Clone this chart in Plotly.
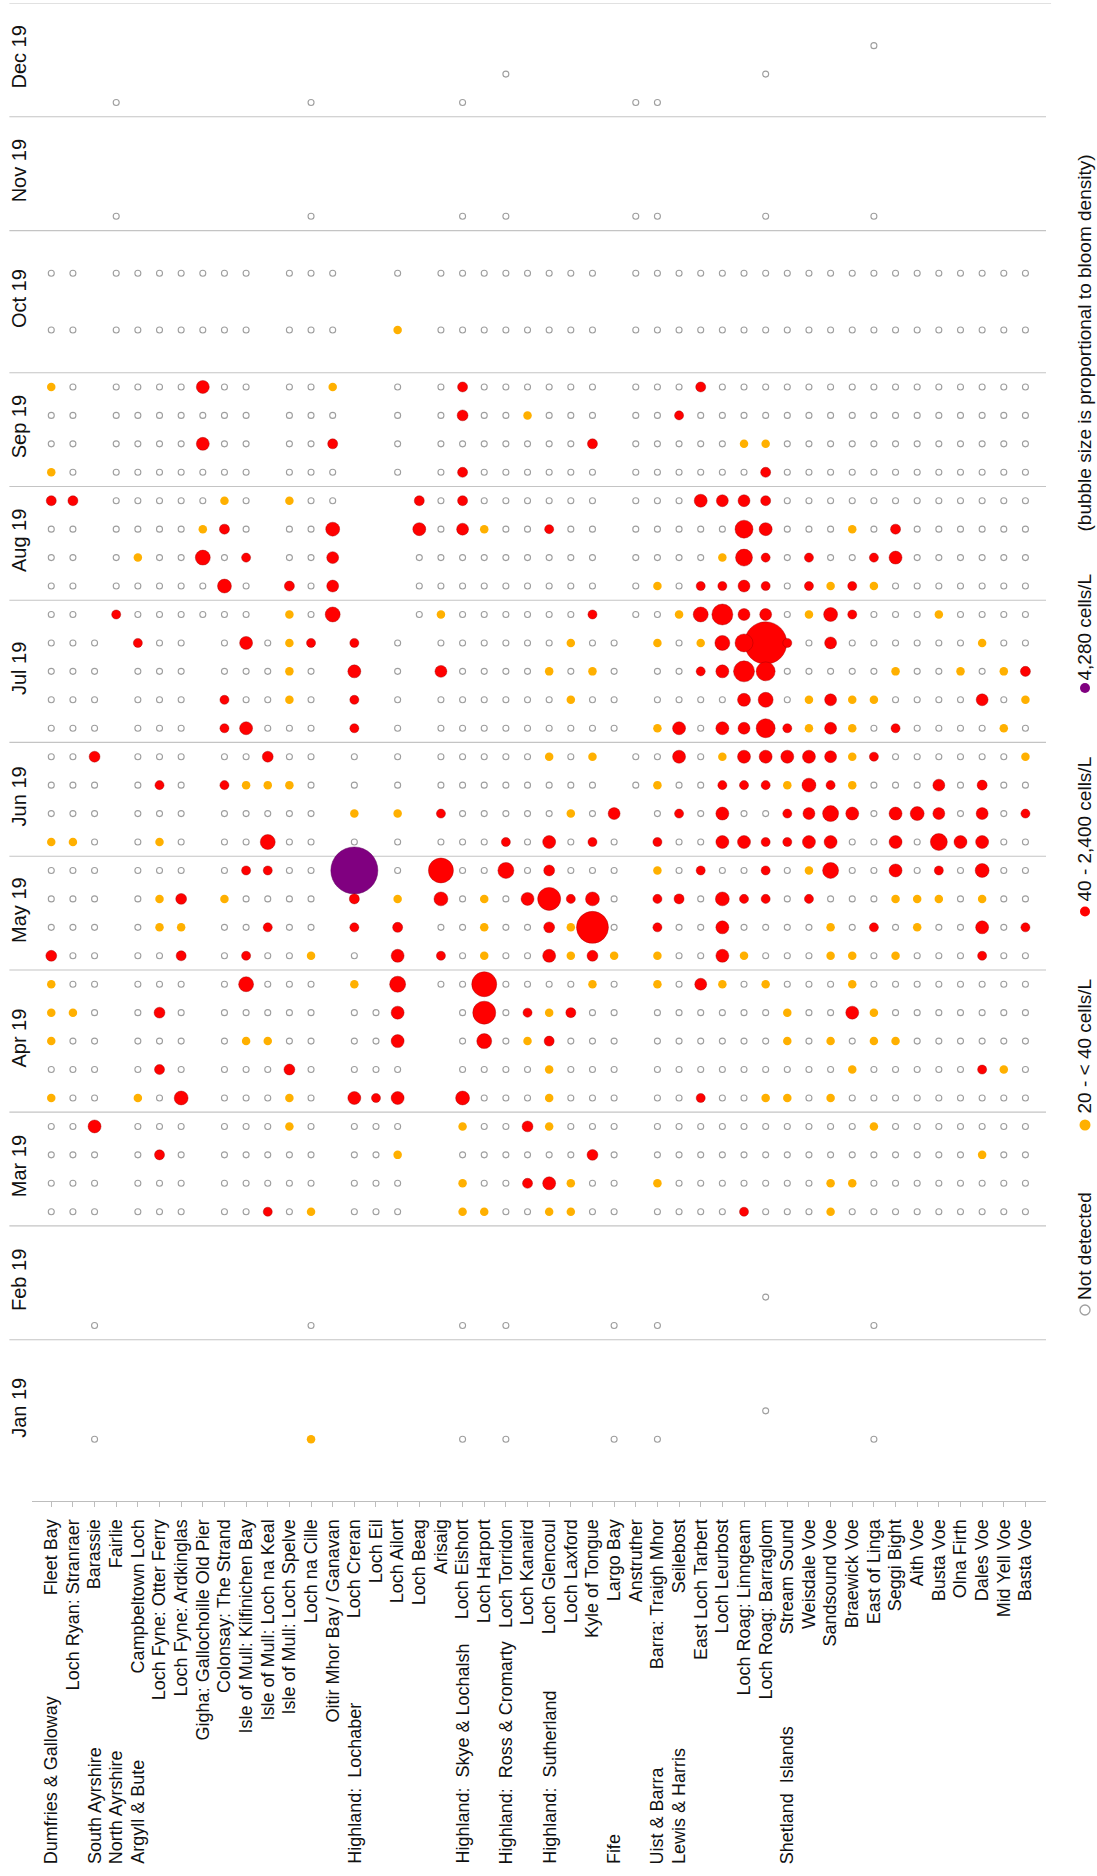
import math
import plotly.graph_objects as go

# ---------------- data ----------------
SITES = ["Fleet Bay", "Loch Ryan: Stranraer", "Barassie", "Fairlie", "Campbeltown Loch",
         "Loch Fyne: Otter Ferry", "Loch Fyne: Ardkinglas", "Gigha: Gallochoille Old Pier",
         "Colonsay: The Strand", "Isle of Mull: Kilfinichen Bay", "Isle of Mull: Loch na Keal",
         "Isle of Mull: Loch Spelve", "Loch na Cille", "Oitir Mhor Bay / Ganavan", "Loch Creran",
         "Loch Eil", "Loch Ailort", "Loch Beag", "Arisaig", "Loch Eishort", "Loch Harport",
         "Loch Torridon", "Loch Kanaird", "Loch Glencoul", "Loch Laxford", "Kyle of Tongue",
         "Largo Bay", "Anstruther", "Barra: Traigh Mhor", "Seilebost", "East Loch Tarbert",
         "Loch Leurbost", "Loch Roag: Linngeam", "Loch Roag: Barraglom", "Stream Sound",
         "Weisdale Voe", "Sandsound Voe", "Braewick Voe", "East of Linga", "Seggi Bight",
         "Aith Voe", "Busta Voe", "Olna Firth", "Dales Voe", "Mid Yell Voe", "Basta Voe"]

REGIONS = ["Dumfries & Galloway", "South Ayrshire", "North Ayrshire", "Argyll & Bute",
           "Highland:\u00a0 Lochaber", "Highland:\u00a0 Skye & Lochalsh",
           "Highland:\u00a0 Ross & Cromarty", "Highland:\u00a0 Sutherland", "Fife",
           "Uist & Barra", "Lewis & Harris", "Shetland\u00a0 Islands"]
REGION_SIZES = [2, 1, 1, 10, 5, 2, 2, 3, 2, 1, 5, 12]

MONTHS = ["Jan 19", "Feb 19", "Mar 19", "Apr 19", "May 19", "Jun 19",
          "Jul 19", "Aug 19", "Sep 19", "Oct 19", "Nov 19", "Dec 19"]
WEEKS_PER_MONTH = [5, 4, 4, 5, 4, 4, 5, 4, 4, 5, 4, 4]

# sample code -> Dinophysis density (cells/L); '.' = no sample
DENSITY = {'o': 0, 'y': 30,
           'a': 40, 'b': 45, 'c': 50, 'd': 57, 'e': 65, 'f': 73, 'g': 83, 'h': 94,
           'i': 106, 'j': 120, 'k': 136, 'l': 174, 'm': 223, 'n': 285, 'q': 675,
           'r': 2400, 'P': 4280}

# week index (0 = first week of Jan) -> one code per site, grouped by region with '|'
SAMPLES = {
    1:  "..|o|.|........y.|.....|o.|o.|...|o.|o|.....|....o.......",
    2:  "..|.|.|..........|.....|..|..|...|..|.|....o|............",
    5:  "..|o|.|........o.|.....|o.|o.|...|o.|o|.....|....o.......",
    6:  "..|.|.|..........|.....|..|..|...|..|.|....o|............",
    9:  "oo|o|.|ooo.ooaoy.|ooo..|yy|oo|yyo|o.|o|oooao|ooyooooooooo",
    10: "oo|o|.|ooo.ooooo.|ooo..|yo|ob|eyo|o.|y|ooooo|ooyyoooooooo",
    11: "oo|o|.|obo.ooooo.|ooy..|oo|oo|ooc|o.|o|ooooo|oooooooooyoo",
    12: "oo|e|.|ooo.oooyo.|ooo..|yo|oc|yoo|o.|o|ooooo|ooooyooooooo",
    13: "yo|o|.|yof.oooyo.|eae..|fo|oo|yoo|o.|o|oaooy|yoyooooooooo",
    14: "oo|o|.|obo.oooco.|ooo..|oo|oo|yoo|o.|o|ooooo|oooyoooooayo",
    15: "yo|o|.|ooo.oyyoo.|ooe..|og|oy|boo|o.|o|ooooo|yoyoyyoooooo",
    16: "yy|o|.|oco.ooooo.|ooe..|om|oa|ybo|o.|o|ooooo|yooeyooooooo",
    17: "yo|o|.|ooo.ogooo.|y.h.o|on|oo|ooy|o.|y|odyoy|oooyoooooooo",
    18: "co|o|.|oob.oaooy.|o.e.a|oy|oo|eyc|y.|y|ooeyo|ooyyoyoooaoo",
    19: "oo|o|.|oyy.ooaoo.|a.b.o|oy|oo|cyq|o.|a|ooeoo|ooyoaoyooeoa",
    20: "oo|o|.|oyc.yoooo.|b.y.f|oy|oe|maf|o.|a|bofaa|oaoooyyyoyoo",
    21: "oo|o|.|ooo.oaaoo.|P.o.n|oo|ho|coo|o.|y|oaooa|oyhooeoaofoo",
    22: "yy|o|.|oyo.oogoo.|o.o.o|oo|ao|eoa|o.|a|ooeea|aeeooeoieeoo",
    23: "oo|o|.|ooo.ooooo.|y.y.a|oo|oo|oyo|d.|o|aoeoo|adheoefdodoa",
    24: "oo|o|.|oao.ayyyo.|o.o.o|oo|oo|ooo|.o|y|ooaaa|yfayooodoboo",
    25: "oo|c|.|ooo.oocoo.|o.o.o|oo|oo|yoy|.o|o|eoyee|eedyaooooooy",
    26: "oo|o|.|ooo.aeooo.|a.o.o|oo|oo|ooo|o.|y|eoedk|aydyoaooooyo",
    27: "oo|o|.|ooo.aooyo.|a.o.o|oo|oo|oyo|o.|o|oooeg|oydyyoooodoy",
    28: "oo|o|.|ooo.oooyo.|e.o.d|oo|oo|yoy|o.|o|oaelk|oooooyooyoyb",
    29: "oo|o|.|aoo.oeoya.|a.o.o|oo|oo|oyo|o.|y|oygjr|aodooooooyoo",
    30: "oo|.|a|oooooo.yog|...oy|oo|oo|ooa|.o|o|ygldd|oyfaoooyoooo",
    31: "oo|.|o|oooofo.bod|...oo|oo|oo|ooo|.o|y|oaada|oayayooooooo",
    32: "oo|.|o|yoogoa.ood|...oo|oo|oo|ooo|.o|o|ooyia|oaooaeoooooo",
    33: "oo|.|o|oooybo.oof|...eo|dy|oo|aoo|.o|o|oooje|oooyoboooooo",
    34: "bb|.|o|ooooyo.yoo|...bo|bo|oo|ooo|.o|o|oeddb|oooooooooooo",
    35: "yo|.|o|oooooo.ooo|..o.o|bo|oo|ooo|.o|o|oooob|oooooooooooo",
    36: "oo|.|o|oooeoo.oob|..o.o|oo|oo|oob|.o|o|oooyy|oooooooooooo",
    37: "oo|.|o|oooooo.ooo|..o.o|co|oy|ooo|.o|o|aoooo|oooooooooooo",
    38: "yo|.|o|oooeoo.ooy|..o.o|bo|oo|ooo|.o|o|obooo|oooooooooooo",
    40: "oo|.|o|oooooo.ooo|..y.o|oo|oo|ooo|.o|o|ooooo|oooooooooooo",
    42: "oo|.|o|oooooo.ooo|..o.o|oo|oo|ooo|.o|o|ooooo|oooooooooooo",
    44: "..|.|o|........o.|.....|o.|o.|...|.o|o|....o|....o.......",
    48: "..|.|o|........o.|.....|o.|..|...|.o|o|.....|............",
    49: "..|.|.|..........|.....|..|o.|...|..|.|....o|............",
    50: "..|.|.|..........|.....|..|..|...|..|.|.....|....o.......",
}

# ---------------- geometry ----------------
W, H = 1097, 1876
ML, MR, MT, MB = 32, 51, 3, 375
PW, PH = W - ML - MR, H - MT - MB


def px(x):
    return (x - ML) / PW


def py(y):
    return (H - MB - y) / PH


def diameter(d):
    return 18.7 * math.log10(d) - 20.9


COL_ND = "#9e9e9e"
COL_OR = "#FFB000"
COL_RED = "#FF0000"
COL_PUR = "#800080"
FONT = "Arial, Liberation Sans, sans-serif"

nd_x, nd_y = [], []
or_x, or_y = [], []
red_pts = []
pur_pts = []
for wk, row in SAMPLES.items():
    codes = row.replace("|", "")
    assert len(codes) == len(SITES), (wk, len(codes))
    for i, c in enumerate(codes):
        if c == '.':
            continue
        dens = DENSITY[c]
        if dens == 0:
            nd_x.append(i); nd_y.append(wk)
        elif dens < 40:
            or_x.append(i); or_y.append(wk)
        elif dens <= 2400:
            red_pts.append((i, wk, dens))
        else:
            pur_pts.append((i, wk, dens))

red_pts.sort(key=lambda t: -t[2])

fig = go.Figure()
fig.add_trace(go.Scatter(
    x=nd_x, y=nd_y, mode="markers", hoverinfo="skip",
    marker=dict(symbol="circle-open", size=6, color=COL_ND, opacity=1, line=dict(width=1.1))))
fig.add_trace(go.Scatter(
    x=or_x, y=or_y, mode="markers", hoverinfo="skip",
    marker=dict(symbol="circle", size=8.5, color=COL_OR, opacity=1, line=dict(width=0))))
fig.add_trace(go.Scatter(
    x=[p[0] for p in pur_pts], y=[p[1] for p in pur_pts], mode="markers", hoverinfo="skip",
    marker=dict(symbol="circle", size=[diameter(p[2]) for p in pur_pts], color=COL_PUR,
                opacity=1, line=dict(width=0.8, color="rgba(90,0,90,0.6)"))))
fig.add_trace(go.Scatter(
    x=[p[0] for p in red_pts], y=[p[1] for p in red_pts], mode="markers", hoverinfo="skip",
    marker=dict(symbol="circle", size=[diameter(p[2]) for p in red_pts], color=COL_RED,
                opacity=1, line=dict(width=0.7, color="rgba(150,0,0,0.55)"))))

# month tick positions (centre of each month's weeks) and boundaries
month_centres, boundaries = [], []
start = 0
for n in WEEKS_PER_MONTH:
    month_centres.append(start + (n - 1) / 2)
    start += n
    boundaries.append(start - 0.5)

shapes = []
for b in boundaries:
    shapes.append(dict(type="line", xref="paper", yref="y", x0=px(9.4),
                       x1=1.005 if b == boundaries[-1] else 1.0, y0=b, y1=b,
                       line=dict(color="#c4c4c4", width=1.2), layer="below"))

# ---------------- manual legend (rotated) ----------------
LX = 1084
legend_items = [
    ("Not detected", 1310, 1302, dict(line=dict(color=COL_ND, width=1.3), fillcolor="white"), 5),
    ("20 - < 40 cells/L", 1125, 1116, dict(line=dict(width=0), fillcolor=COL_OR), 5.5),
    ("40 - 2,400 cells/L", 911.5, 904, dict(line=dict(width=0), fillcolor=COL_RED), 5),
    ("4,280 cells/L", 688, 683, dict(line=dict(width=0), fillcolor=COL_PUR), 5),
]
annotations = []
for text, cy, tb, style, r in legend_items:
    shapes.append(dict(type="circle", xref="paper", yref="paper", xsizemode="pixel",
                       ysizemode="pixel", xanchor=px(LX + 1), yanchor=py(cy),
                       x0=-r, x1=r, y0=-r, y1=r, **style))
    annotations.append(dict(text=text, x=px(LX), y=py(tb), xref="paper", yref="paper",
                            xanchor="center", yanchor="bottom", textangle=-90,
                            showarrow=False, font=dict(family=FONT, size=19, color="#111")))
annotations.append(dict(text="(bubble size is proportional to bloom density)",
                        x=px(LX), y=py(534), xref="paper", yref="paper",
                        xanchor="center", yanchor="bottom", textangle=-90, showarrow=False,
                        font=dict(family=FONT, size=19, color="#111")))

# region labels
s = 0
for name, n in zip(REGIONS, REGION_SIZES):
    annotations.append(dict(text=name, x=s, y=py(1866), xref="x", yref="paper",
                            xanchor="center", yanchor="bottom", textangle=-90,
                            showarrow=False, font=dict(family=FONT, size=18, color="#111")))
    s += n

fig.update_layout(
    width=W, height=H, margin=dict(l=ML, r=MR, t=MT, b=MB, pad=0),
    paper_bgcolor="white", plot_bgcolor="white", showlegend=False,
    font=dict(family=FONT, color="#111"),
    xaxis=dict(range=[-0.89, 45.95], tickmode="array", tickvals=list(range(len(SITES))),
               ticktext=SITES, tickangle=-90, ticks="outside", ticklen=5,
               tickcolor="#bdbdbd", showline=True, linecolor="#bdbdbd", linewidth=1.2,
               showgrid=False, zeroline=False, tickfont=dict(size=18, family=FONT),
               ticklabelstandoff=5, automargin=False, fixedrange=True),
    yaxis=dict(range=[-1.17, 51.5], tickmode="array", tickvals=month_centres,
               ticktext=MONTHS, tickangle=-90, ticks="", showline=False, showgrid=False,
               zeroline=False, tickfont=dict(size=20, family=FONT), automargin=False,
               ticklabelstandoff=1, fixedrange=True),
    shapes=shapes, annotations=annotations,
)

# the page's default 8px body margin would shift the figure; remove it
fig.write_html("out.html", config={"displayModeBar": False},
               post_script="document.body.style.margin='0px';"
                           "document.body.style.overflow='hidden';")
